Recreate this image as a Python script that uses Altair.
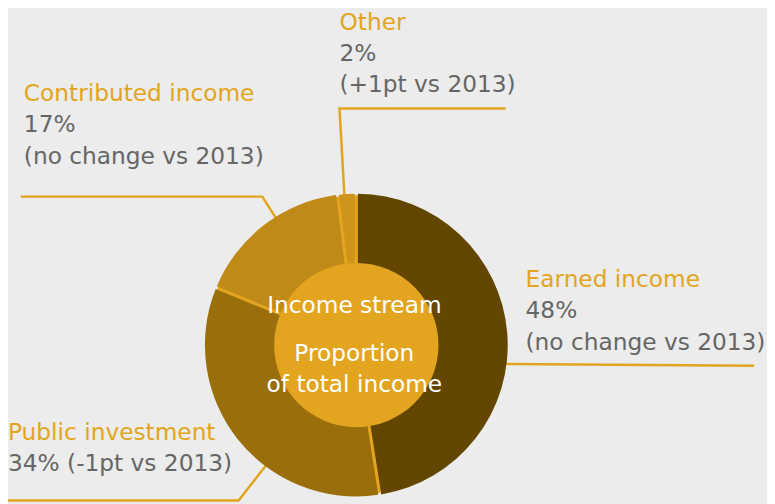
import altair as alt
import pandas as pd

# ---- data ----
categories = ["Earned income", "Public investment", "Contributed income", "Other"]
shares = [48, 34, 17, 2]
changes = ["no change", "-1pt", "no change", "+1pt"]
slice_colors = ["#634700", "#9a6e0b", "#bf8a17", "#cf951b"]
center_lines = ["Income stream", "Proportion", "of total income"]

# ---- layout (pixels inside the chart, origin top-left) ----
W, H = 767, 496
OFF = 8
CX, CY = 360 - OFF, 346 - OFF
R_OUT, R_IN = 153, 83
ORANGE = "#e3a520"
GREY = "#666666"
BG = "#ebeceb"
FS = 23.5

# label anchors: (x, first-baseline, line gap, single-line?)
label_pos = {
    "Other": (343, 28, 31, False),
    "Contributed income": (24, 99, 32, False),
    "Earned income": (531, 287, 32, False),
    "Public investment": (8, 442, 31, True),
}
leaders = {
    "Other": [(348, 196), (343, 107), (511, 107)],
    "Contributed income": [(279, 218), (265, 196), (21, 196)],
    "Earned income": [(508, 365), (762, 367)],
    "Public investment": [(270, 466), (241, 503), (8, 503)],
}

pie_df = pd.DataFrame({"category": categories, "share": shares, "order": range(len(categories))})

rows = []
for cat, sh, ch in zip(categories, shares, changes):
    x, y0, gap, single = label_pos[cat]
    rows.append({"x": x - OFF, "y": y0 - OFF, "text": cat, "kind": "title"})
    if single:
        rows.append({"x": x - OFF, "y": y0 + gap - OFF, "text": f"{sh}% ({ch} vs 2013)", "kind": "value"})
    else:
        rows.append({"x": x - OFF, "y": y0 + gap - OFF, "text": f"{sh}%", "kind": "value"})
        rows.append({"x": x - OFF, "y": y0 + 2 * gap - OFF, "text": f"({ch} vs 2013)", "kind": "value"})
text_df = pd.DataFrame(rows)

center_y = [314, 362, 393]
center_df = pd.DataFrame({"x": [358 - OFF] * 3, "y": [v - OFF for v in center_y], "text": center_lines})

lrows = []
for cat, pts in leaders.items():
    for i, (px, py) in enumerate(pts):
        lrows.append({"seg": cat, "i": i, "x": px - OFF, "y": py - OFF})
line_df = pd.DataFrame(lrows)

xs = alt.Scale(domain=[0, W], range=[0, W], nice=False, zero=False)
ys = alt.Scale(domain=[0, H], range=[0, H], nice=False, zero=False)
X = lambda: alt.X("x:Q", scale=xs, axis=None)
Y = lambda: alt.Y("y:Q", scale=ys, axis=None)

FULL = 6.283185307179586

under = alt.Chart(pd.DataFrame({"v": [1]})).mark_arc(
    radius=R_OUT - 1.5, color=ORANGE
).encode(theta=alt.value(0), theta2=alt.value(FULL), x=alt.value(CX), y=alt.value(CY))

pie = alt.Chart(pie_df).mark_arc(
    radius=R_OUT, radius2=R_IN - 2, padAngle=0.018
).encode(
    theta=alt.Theta("share:Q", stack=True),
    order=alt.Order("order:Q"),
    color=alt.Color("category:N", scale=alt.Scale(domain=categories, range=slice_colors), legend=None),
    x=alt.value(CX), y=alt.value(CY),
)

inner = alt.Chart(pd.DataFrame({"v": [1]})).mark_arc(
    radius=R_IN, color=ORANGE
).encode(theta=alt.value(0), theta2=alt.value(FULL), x=alt.value(CX), y=alt.value(CY))

lines = alt.Chart(line_df).mark_line(color=ORANGE, strokeWidth=2.5).encode(
    x=X(), y=Y(), detail="seg:N", order="i:Q"
)

labels = alt.Chart(text_df).mark_text(
    align="left", baseline="alphabetic", font="DejaVu Sans", fontSize=FS
).encode(
    x=X(), y=Y(), text="text:N",
    color=alt.Color("kind:N", scale=alt.Scale(domain=["title", "value"], range=[ORANGE, GREY]), legend=None),
)

center = alt.Chart(center_df).mark_text(
    align="center", baseline="alphabetic", font="DejaVu Sans", fontSize=FS, color="white"
).encode(x=X(), y=Y(), text="text:N")

chart = alt.layer(lines, under, pie, inner, labels, center).resolve_scale(
    color="independent", theta="independent"
).properties(
    width=W, height=H, padding=0, autosize=alt.AutoSizeParams(type="none"), background=BG
).configure_view(stroke=None)

chart.save("out.html", embed_options={"renderer": "svg", "actions": False})
